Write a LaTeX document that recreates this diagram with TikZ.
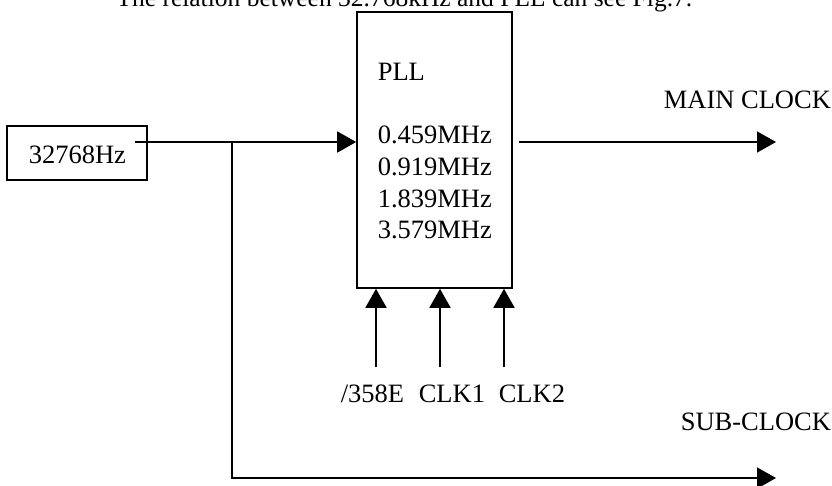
\documentclass[tikz,border=0pt]{standalone}
\usepackage{fontspec}
\setmainfont{Liberation Serif}
\usetikzlibrary{positioning}
\usetikzlibrary{arrows.meta}

\begin{document}
\begin{tikzpicture}[x=1pt,y=-1pt,line width=1.6pt,
		>={Triangle[length=19pt,width=21pt]},
		txt/.style={anchor=base west,inner sep=0pt,font=\fontsize{26.5}{31.7}\selectfont},
		blk/.style={draw,line width=1.6pt,inner sep=0pt}]
		\useasboundingbox (0,0) rectangle (832,485);
		\node (title) [txt,anchor=base east,font=\fontsize{25.5}{30}\selectfont] at (693,6) {The relation between 32.768kHz and PLL can see Fig.7.};
		\node (osc) [blk,minimum width=140pt,minimum height=54pt] at (77,153) {};
		\node (osctxt) [txt] at (28,163) {32768Hz};
		\node (pll) [blk,minimum width=155pt,minimum height=276pt] at (434.5,150) {};
		\node (plltxt) [txt] at (377,80) {PLL};
		\node (f1) [txt] at (377,143) {0.459MHz};
		\node (f2) [txt] at (377,175) {0.919MHz};
		\node (f3) [txt] at (377,207) {1.839MHz};
		\node (f4) [txt] at (377,238) {3.579MHz};
		\node (mainlbl) [txt] at (663,108) {MAIN CLOCK};
		\node (sublbl) [txt] at (680,430) {SUB-CLOCK};
		\node (nres) [txt] at (340,402) {/358E};
		\node (clk1) [txt] at (418,402) {CLK1};
		\node (clk2) [txt] at (498,402) {CLK2};
		\coordinate (in) at (135,142);
		\coordinate (split) at (232,142);
		\coordinate (corner) at (232,478);
		\coordinate (subout) at (776,478);
		\coordinate (mainin) at (519,142);
		\coordinate (mainout) at (776,142);
		\coordinate (p1) at (376,367);
		\coordinate (p2) at (440,367);
		\coordinate (p3) at (504,367);
		\draw[->] (in) -- (pll.west |- in);
		\draw[->] (split) -- (corner) -- (subout);
		\draw[->] (mainin) -- (mainout);
		\draw[->] (p1) -- (pll.south -| p1);
		\draw[->] (p2) -- (pll.south -| p2);
		\draw[->] (p3) -- (pll.south -| p3);
\end{tikzpicture}
\end{document}
